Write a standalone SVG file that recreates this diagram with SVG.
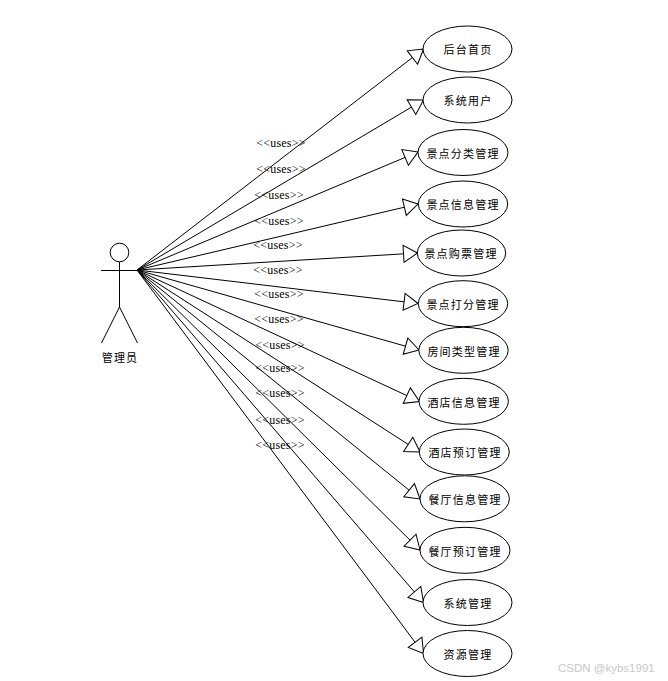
<svg xmlns="http://www.w3.org/2000/svg" width="668" height="681" viewBox="0 0 668 681">
<style>
.u{fill:#fff;stroke:#000;stroke-width:1}
.c{fill:none;stroke:#000;stroke-width:1;marker-end:url(#tri)}
.a{fill:none;stroke:#000;stroke-width:1}
.t{font-family:"Noto Sans CJK SC","Liberation Sans",sans-serif;font-size:11px;letter-spacing:1.2px;text-anchor:middle;fill:#000}
.l{font-family:"Liberation Serif",serif;font-size:12px;letter-spacing:.2px;text-anchor:middle;fill:#000}
.w{font-family:"Liberation Sans",sans-serif;font-size:11.5px;fill:#c8c8c8}
</style>
<defs>
<marker id="tri" markerUnits="userSpaceOnUse" markerWidth="24" markerHeight="24" refX="20" refY="11" orient="auto" overflow="visible">
<path d="M20 11L6 2.5V19.5Z" fill="#fff" stroke="#000" stroke-width="1"/>
</marker>
</defs>
<rect width="668" height="681" fill="#fff"/>
<g id="connectors">
<path class="c" d="M137 270L423.5 49"/>
<path class="c" d="M137 270L423.5 100"/>
<path class="c" d="M137 270L418 152"/>
<path class="c" d="M137 270L418 204"/>
<path class="c" d="M137 270L417.5 253"/>
<path class="c" d="M137 270L418 303.5"/>
<path class="c" d="M137 270L419 350"/>
<path class="c" d="M137 270L419.5 401.5"/>
<path class="c" d="M137 270L420 452"/>
<path class="c" d="M137 270L420 499"/>
<path class="c" d="M137 270L420 550"/>
<path class="c" d="M137 270L423.5 602.5"/>
<path class="c" d="M137 270L423.5 653.5"/>
<text class="l" x="281" y="147">&lt;&lt;uses&gt;&gt;</text>
<text class="l" x="281" y="173">&lt;&lt;uses&gt;&gt;</text>
<text class="l" x="279" y="199">&lt;&lt;uses&gt;&gt;</text>
<text class="l" x="279" y="225">&lt;&lt;uses&gt;&gt;</text>
<text class="l" x="278" y="249">&lt;&lt;uses&gt;&gt;</text>
<text class="l" x="278" y="274">&lt;&lt;uses&gt;&gt;</text>
<text class="l" x="279" y="298">&lt;&lt;uses&gt;&gt;</text>
<text class="l" x="279" y="323">&lt;&lt;uses&gt;&gt;</text>
<text class="l" x="280" y="349">&lt;&lt;uses&gt;&gt;</text>
<text class="l" x="280" y="372">&lt;&lt;uses&gt;&gt;</text>
<text class="l" x="280" y="397">&lt;&lt;uses&gt;&gt;</text>
<text class="l" x="280" y="424">&lt;&lt;uses&gt;&gt;</text>
<text class="l" x="280" y="449">&lt;&lt;uses&gt;&gt;</text>
</g>
<g id="actor">
<circle class="a" cx="119.5" cy="252.5" r="9.3"/>
<path class="a" d="M119.5 262V307M101 270.5H138M119.5 307L101.5 343M119.5 307L137.5 343"/>
<text class="t" x="120" y="362">管理员</text>
</g>
<g id="n1"><ellipse class="u" cx="467.5" cy="49" rx="44.5" ry="23"/><text class="t" x="468" y="54">后台首页</text></g>
<g id="n2"><ellipse class="u" cx="467.5" cy="100" rx="44.5" ry="23"/><text class="t" x="468" y="105">系统用户</text></g>
<g id="n3"><ellipse class="u" cx="463" cy="152.5" rx="45" ry="23"/><text class="t" x="463" y="158">景点分类管理</text></g>
<g id="n4"><ellipse class="u" cx="463" cy="204" rx="44.7" ry="23"/><text class="t" x="463" y="209">景点信息管理</text></g>
<g id="n5"><ellipse class="u" cx="461.5" cy="253" rx="44.2" ry="23"/><text class="t" x="461" y="258">景点购票管理</text></g>
<g id="n6"><ellipse class="u" cx="463" cy="303.7" rx="44.7" ry="23"/><text class="t" x="463" y="309">景点打分管理</text></g>
<g id="n7"><ellipse class="u" cx="463.5" cy="350.3" rx="44.7" ry="23"/><text class="t" x="464" y="356">房间类型管理</text></g>
<g id="n8"><ellipse class="u" cx="463.7" cy="401.3" rx="44.7" ry="23"/><text class="t" x="464" y="407">酒店信息管理</text></g>
<g id="n9"><ellipse class="u" cx="464.3" cy="452" rx="45" ry="23"/><text class="t" x="465" y="457">酒店预订管理</text></g>
<g id="n10"><ellipse class="u" cx="464.7" cy="498.8" rx="44.7" ry="23"/><text class="t" x="465" y="504">餐厅信息管理</text></g>
<g id="n11"><ellipse class="u" cx="465" cy="550.3" rx="45" ry="23"/><text class="t" x="465" y="556">餐厅预订管理</text></g>
<g id="n12"><ellipse class="u" cx="467.5" cy="602.5" rx="44.5" ry="23"/><text class="t" x="468" y="608">系统管理</text></g>
<g id="n13"><ellipse class="u" cx="467.5" cy="653.5" rx="44.5" ry="23"/><text class="t" x="468" y="659">资源管理</text></g>
<text class="w" x="558" y="672">CSDN @kybs1991</text>
</svg>
